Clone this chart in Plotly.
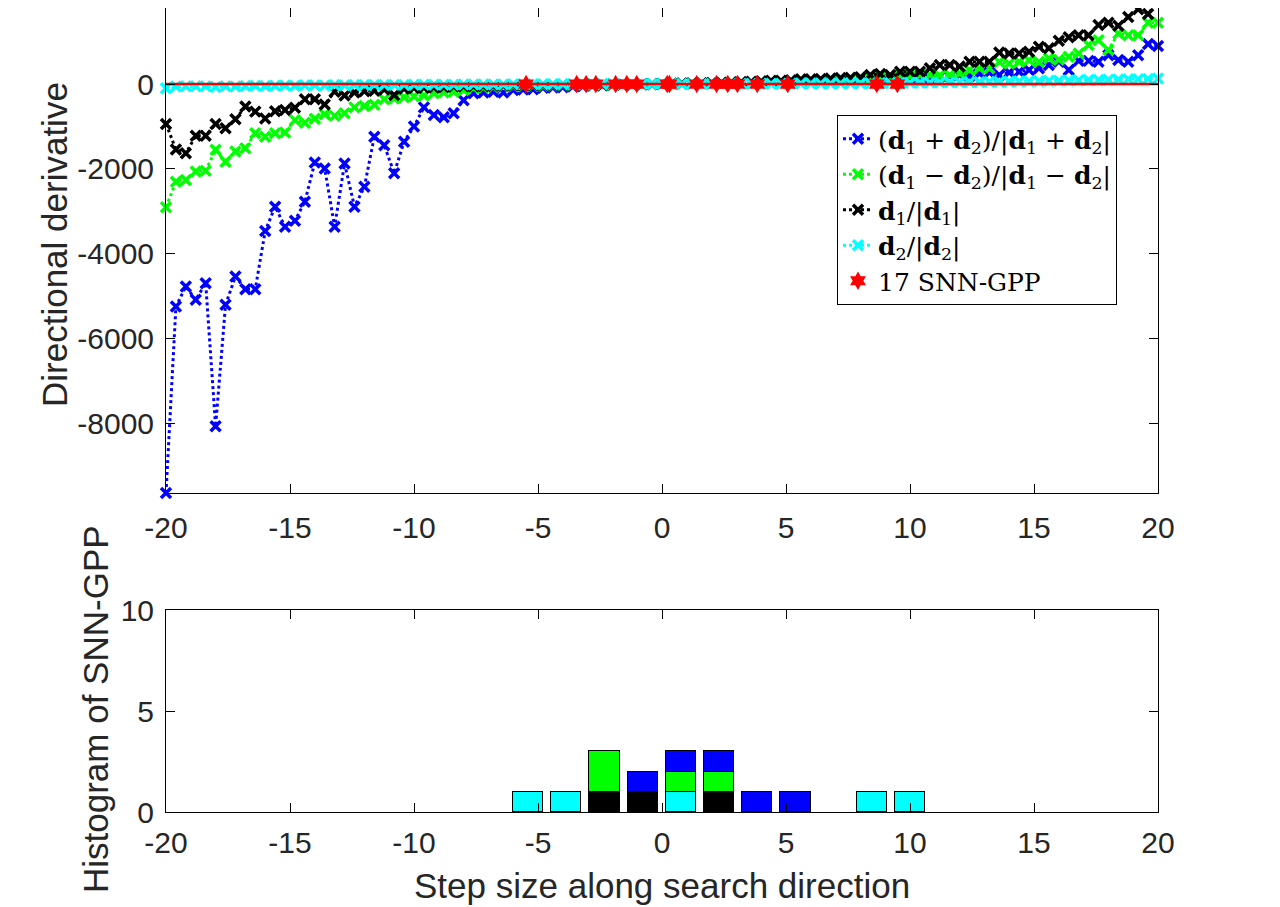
import numpy as np
import plotly.graph_objs as go

# step sizes along the search direction (101 samples, -20 .. 20)
step = np.linspace(-20, 20, 101)

# directional derivative along each direction
dd_plus = [-9630, -5240, -4770, -5080, -4690, -8060, -5200, -4530, -4830, -4830,
           -3460, -2890, -3360, -3220, -2770, -1850, -1990, -3360, -1870, -2890,
           -2420, -1240, -1440, -2100, -1360, -1000, -550, -730, -780, -690,
           -380, -220, -200, -180, -200, -140, -130, -125, -90, -80,
           -75, -60, -50, -40, -35, -25, -20, -15, -10, -5,
           0, 5, 8, 10, 12, 15, 18, 22, 25, 30,
           35, 40, 45, 55, 60, 70, 80, 95, 110, 130,
           140, 150, 140, 170, 160, 150, 170, 160, 175, 190,
           210, 190, 250, 270, 210, 270, 290, 330, 370, 450,
           525, 330, 545, 545, 525, 680, 565, 525, 680, 940, 895]
dd_minus = [-2900, -2300, -2260, -2060, -2040, -1550, -1830, -1590, -1510, -1160,
            -1240, -1160, -1140, -850, -910, -820, -710, -750, -690, -550,
            -520, -490, -360, -340, -310, -290, -270, -220, -200, -180,
            -140, -95, -80, -70, -60, -55, -50, -45, -40, -35,
            -30, -28, -25, -22, -20, -17, -14, -10, -7, -4,
            0, 4, 7, 10, 13, 16, 20, 24, 28, 32,
            36, 40, 45, 50, 55, 60, 70, 80, 95, 110,
            130, 150, 170, 180, 200, 190, 210, 210, 200, 210,
            250, 330, 370, 370, 520, 480, 520, 560, 520, 600,
            570, 640, 720, 920, 1030, 800, 1190, 1150, 1150, 1440, 1440]
dd_d1 = [-940, -1540, -1630, -1220, -1220, -940, -1040, -830, -530, -650,
         -810, -640, -610, -560, -360, -360, -480, -180, -270, -200,
         -170, -160, -130, -260, -110, -95, -90, -80, -75, -60,
         -55, -50, -45, -40, -35, -32, -30, -27, -24, -21,
         -18, -15, -13, -11, -9, -7, -5, -4, -2, -1,
         0, 5, 10, 15, 20, 25, 32, 40, 48, 56,
         65, 75, 80, 90, 110, 115, 120, 130, 140, 150,
         160, 210, 235, 210, 290, 290, 290, 370, 450, 450,
         410, 525, 525, 525, 740, 720, 720, 760, 880, 840,
         1020, 1100, 1150, 1150, 1390, 1440, 1370, 1580, 1760, 1650, 1950]
dd_d2 = [-100, -60, -55, -50, -55, -70, -50, -60, -45, -40,
         -45, -40, -35, -40, -30, -30, -35, -25, -30, -25,
         -25, -20, -25, -20, -20, -18, -18, -15, -15, -15,
         -12, -12, -10, -10, -10, -8, -8, -7, -6, -5,
         -5, -4, -4, -3, -3, -2, -2, -1, -1, 0,
         0, 1, 1, 2, 2, 3, 3, 4, 5, 5,
         6, 7, 8, 9, 10, 11, 12, 14, 15, 17,
         18, 20, 22, 24, 26, 28, 30, 33, 36, 39,
         42, 45, 48, 52, 56, 60, 64, 68, 72, 76,
         80, 84, 88, 92, 96, 100, 105, 110, 115, 120, 130]

# SNN-GPP locations
gpp_x = [-5.48, -3.44, -3.06, -2.67, -1.87, -1.42, -1.02, 0.21, 0.30,
         1.40, 2.20, 2.65, 3.04, 3.84, 5.07, 8.66, 9.49]
gpp_y = [0] * len(gpp_x)

# histogram of SNN-GPP, per direction
bin_centers = [-5.4, -3.86, -2.32, -0.78, 0.76, 2.3, 3.84, 5.38, 8.46, 10.0]
cnt_d1 = [0, 0, 1, 1, 0, 1, 0, 0, 0, 0]
cnt_d2 = [1, 1, 0, 0, 1, 0, 0, 0, 1, 1]
cnt_minus = [0, 0, 2, 0, 1, 1, 0, 0, 0, 0]
cnt_plus = [0, 0, 0, 1, 1, 1, 1, 1, 0, 0]

W, H = 1280, 907
OFF = 8  # page body margin, the figure sits 8px in from the window corner


def fx(px):
    return (px - OFF) / W


def fy(py):
    return 1 - (py - OFF) / H


tick_font = dict(family="Liberation Sans", size=30, color="#262626")
label_font = dict(family="Liberation Sans", size=35, color="#262626")

fig = go.Figure()

series = [
    (dd_plus, "blue", "(<b>d</b><sub>1</sub> + <b>d</b><sub>2</sub>)/|<b>d</b><sub>1</sub> + <b>d</b><sub>2</sub>|"),
    (dd_minus, "#00ff00", "(<b>d</b><sub>1</sub> − <b>d</b><sub>2</sub>)/|<b>d</b><sub>1</sub> − <b>d</b><sub>2</sub>|"),
    (dd_d1, "black", "<b>d</b><sub>1</sub>/|<b>d</b><sub>1</sub>|"),
    (dd_d2, "#00ffff", "<b>d</b><sub>2</sub>/|<b>d</b><sub>2</sub>|"),
]
for vals, col, name in series:
    fig.add_trace(go.Scatter(
        x=step, y=vals, name=name, mode="lines+markers",
        line=dict(color=col, width=3, dash="dot"),
        marker=dict(symbol="x-thin-open", size=10, line=dict(color=col, width=3.5)),
        cliponaxis=False, xaxis="x", yaxis="y"))

# zero line
fig.add_trace(go.Scatter(x=[step[0], step[-1]], y=[0, 0], mode="lines",
                         line=dict(color="red", width=2.5), showlegend=False,
                         xaxis="x", yaxis="y"))
fig.add_trace(go.Scatter(x=gpp_x, y=gpp_y, mode="markers", name="17 SNN-GPP",
                         marker=dict(symbol="hexagram", size=14, color="red"),
                         cliponaxis=False, xaxis="x", yaxis="y"))

# stacked histogram
for cnt, col in [(cnt_d1, "black"), (cnt_d2, "#00ffff"), (cnt_minus, "#00ff00"), (cnt_plus, "blue")]:
    fig.add_trace(go.Bar(x=bin_centers, y=cnt, width=1.22, showlegend=False,
                         marker=dict(color=col, line=dict(color="black", width=1)),
                         xaxis="x2", yaxis="y2"))

xdom = [fx(166), fx(1158)]
ax_common = dict(showline=True, linecolor="black", linewidth=1, mirror="ticks",
                 ticks="inside", ticklen=9, tickcolor="black", showgrid=False,
                 zeroline=False, tickfont=tick_font, automargin=False)
xt = list(range(-20, 21, 5))

fig.update_layout(
    width=W, height=H, margin=dict(l=0, r=0, t=0, b=0, pad=0, autoexpand=False),
    paper_bgcolor="white", plot_bgcolor="white", barmode="stack", bargap=0,
    xaxis=dict(domain=xdom, anchor="y", range=[-20, 20], tickvals=xt,
               ticktext=[str(v) for v in xt], ticklabelstandoff=8, **ax_common),
    yaxis=dict(domain=[fy(493), 1.0], anchor="x", range=[-9630, 1790],
               tickvals=[-8000, -6000, -4000, -2000, 0],
               ticktext=["-8000", "-6000", "-4000", "-2000", "0"],
               ticklabelstandoff=5, **ax_common),
    xaxis2=dict(domain=xdom, anchor="y2", range=[-20, 20], tickvals=xt,
                ticktext=[str(v) for v in xt], ticklabelstandoff=4, **ax_common),
    yaxis2=dict(domain=[fy(812), fy(610)], anchor="x2", range=[0, 10],
                tickvals=[0, 5, 10], ticktext=["0", "5", "10"],
                ticklabelstandoff=5, **ax_common),
    legend=dict(x=fx(837), y=fy(115), xanchor="left", yanchor="top",
                bgcolor="white", bordercolor="black", borderwidth=1,
                traceorder="normal",
                font=dict(family="DejaVu Serif", size=25, color="black"),
                tracegroupgap=0),
    annotations=[
        dict(text="Directional derivative", x=fx(55), y=fy(245), xref="paper", yref="paper",
             textangle=-90, showarrow=False, font=label_font, xanchor="center", yanchor="middle"),
        dict(text="Histogram of SNN-GPP", x=fx(95), y=fy(709), xref="paper", yref="paper",
             textangle=-90, showarrow=False, font=label_font, xanchor="center", yanchor="middle"),
        dict(text="Step size along search direction", x=fx(662), y=fy(885), xref="paper",
             yref="paper", showarrow=False, font=label_font, xanchor="center", yanchor="middle"),
    ],
)

fig.write_html("out.html")
